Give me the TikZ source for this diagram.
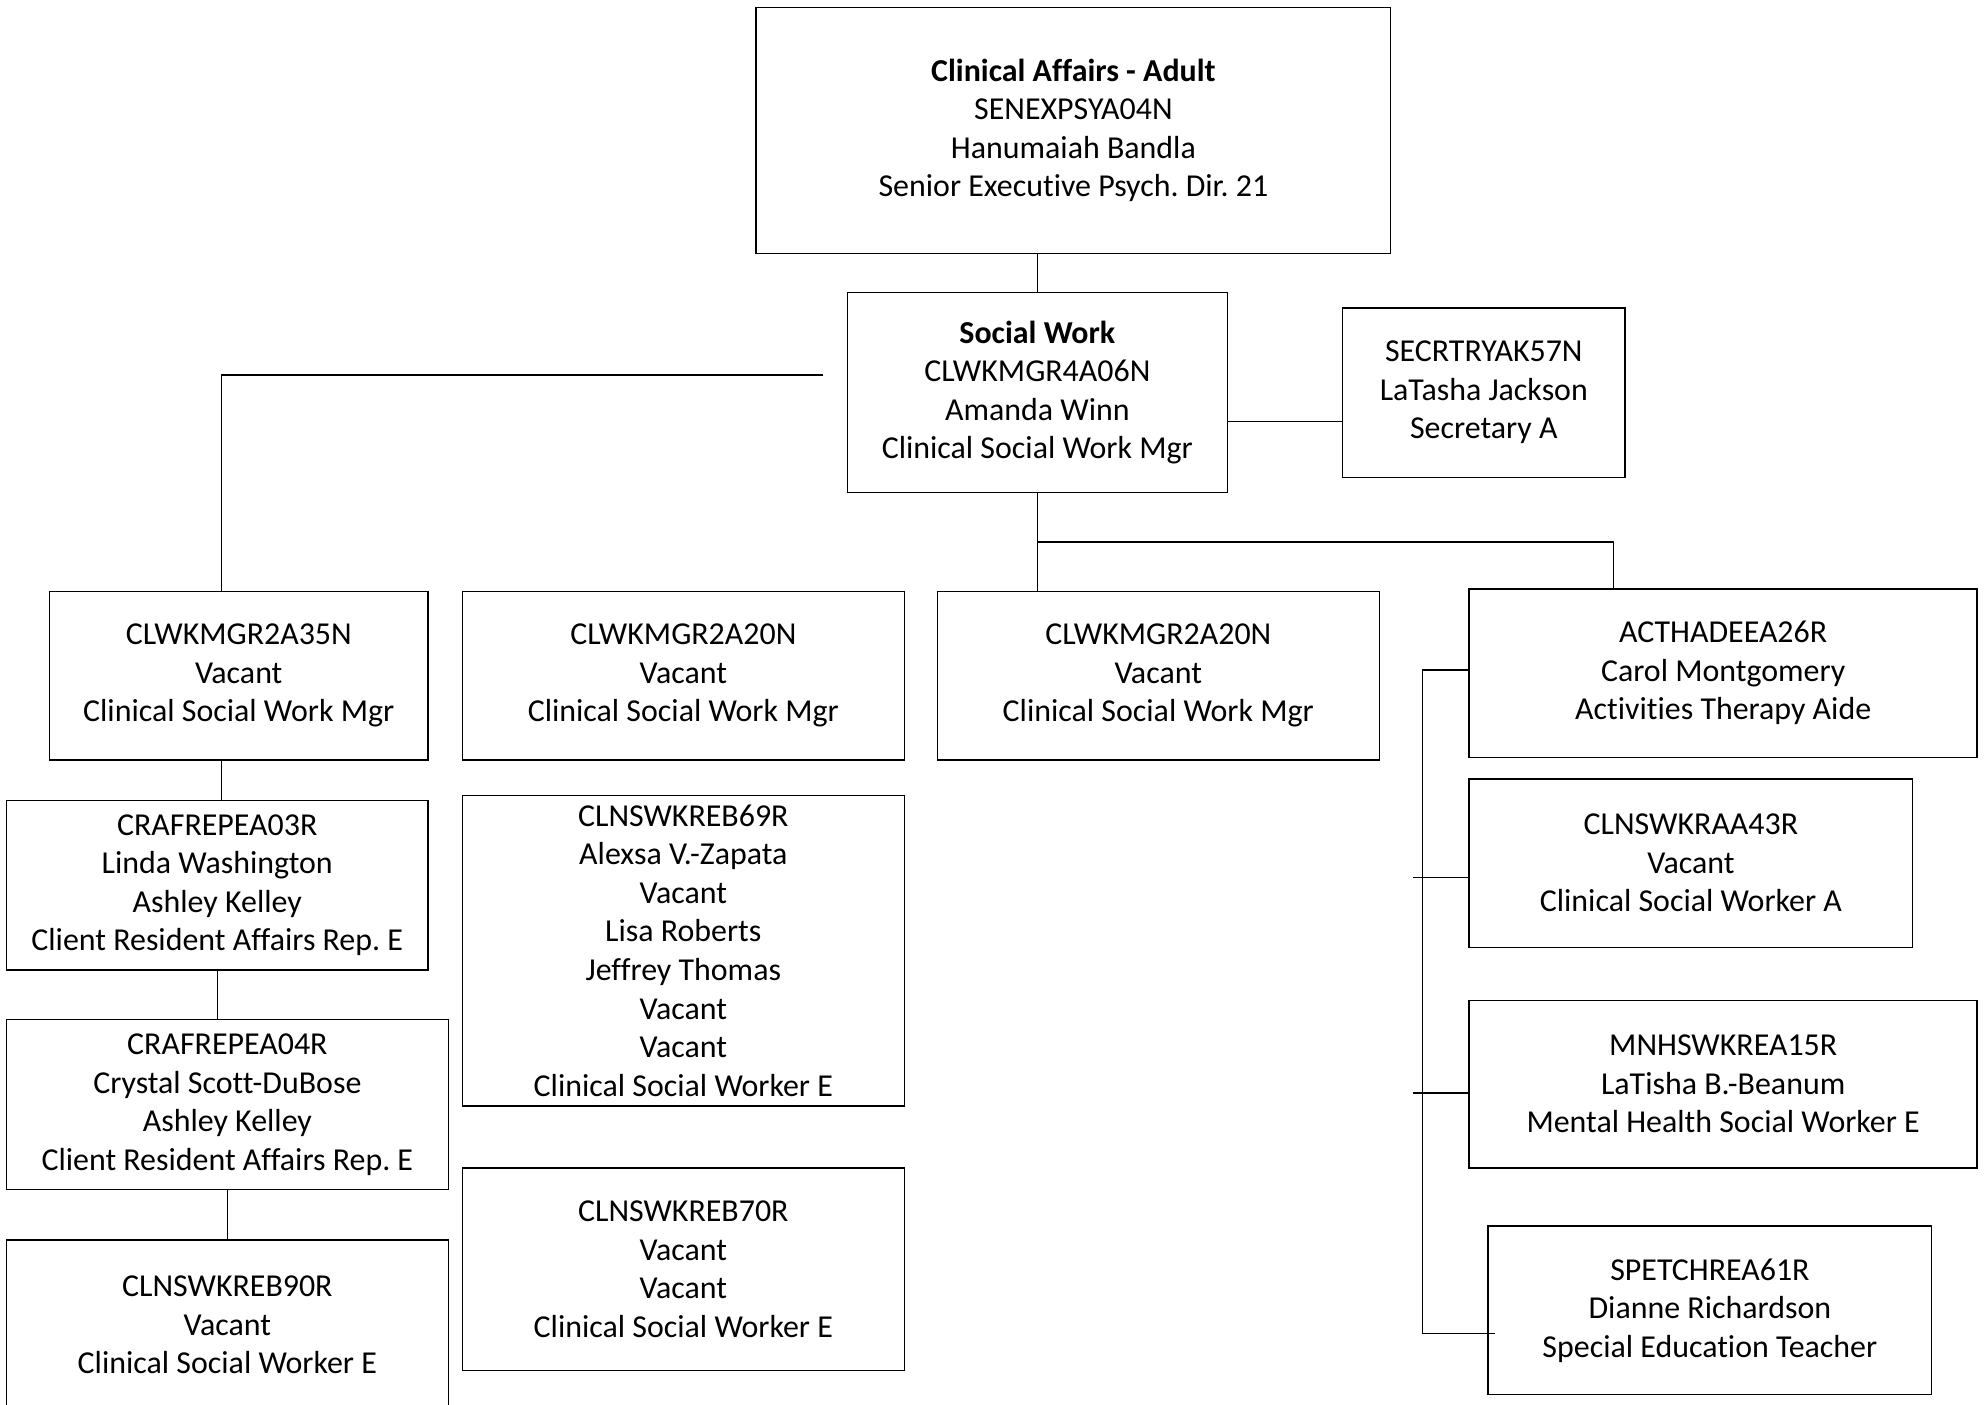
\documentclass[tikz,border=0pt]{standalone}
\usepackage{fontspec}
\setmainfont{Carlito}[Ligatures=NoCommon]
\frenchspacing
\usepackage{tikz}
\usetikzlibrary{positioning, calc}
\newcommand{\orgfont}{\fontsize{12.6}{15.2}\selectfont}
\tikzset{
  orgbox/.style={rectangle, draw=black, line width=0.6pt, fill=white, align=center,
                 inner sep=0pt, font=\orgfont},
  link/.style={draw=black, line width=0.5pt},
}

\begin{document}
\begin{tikzpicture}[x=0.5pt, y=-0.5pt]
\useasboundingbox (0,0) rectangle (1568,1109);
% top of the chart
\node[orgbox, minimum width=250.5pt, minimum height=97pt] (top) at (847.5,103) {\textbf{Clinical Affairs - Adult}\\SENEXPSYA04N\\Hanumaiah Bandla\\Senior Executive Psych. Dir. 21};
\node[orgbox, minimum width=150pt, minimum height=79pt] (sw) at (819,310) {\textbf{Social Work}\\CLWKMGR4A06N\\Amanda Winn\\Clinical Social Work Mgr};
\node[orgbox, minimum width=111.5pt, minimum height=67pt] (sec) at (1171.5,310) {SECRTRYAK57N\\LaTasha Jackson\\Secretary A};
% managers row
\node[orgbox, minimum width=149.5pt, minimum height=66.5pt] (b1) at (188.5,533.5) {CLWKMGR2A35N\\Vacant\\Clinical Social Work Mgr};
\node[orgbox, minimum width=174.5pt, minimum height=66.5pt] (b2) at (539.5,533.5) {CLWKMGR2A20N\\Vacant\\Clinical Social Work Mgr};
\node[orgbox, minimum width=174.5pt, minimum height=66.5pt] (b3) at (914.5,533.5) {CLWKMGR2A20N\\Vacant\\Clinical Social Work Mgr};
\node[orgbox, minimum width=200.5pt, minimum height=66.5pt] (b4) at (1360.5,531.5) {ACTHADEEA26R\\Carol Montgomery\\Activities Therapy Aide};
% left column
\node[orgbox, minimum width=166.5pt, minimum height=67pt] (c1) at (171.5,699) {CRAFREPEA03R\\Linda Washington\\Ashley Kelley\\Client Resident Affairs Rep. E};
\node[orgbox, minimum width=174.5pt, minimum height=67pt] (c2) at (179.5,872) {CRAFREPEA04R\\Crystal Scott-DuBose\\Ashley Kelley\\Client Resident Affairs Rep. E};
\node[orgbox, minimum width=174.5pt, minimum height=67pt] (c3) at (179.5,1046) {CLNSWKREB90R\\Vacant\\Clinical Social Worker E};
% middle column
\node[orgbox, minimum width=174.5pt, minimum height=122.5pt] (d1) at (539.5,750.5) {CLNSWKREB69R\\Alexsa V.-Zapata\\Vacant\\Lisa Roberts\\Jeffrey Thomas\\Vacant\\Vacant\\Clinical Social Worker E};
\node[orgbox, minimum width=174.5pt, minimum height=80pt] (d2) at (539.5,1002) {CLNSWKREB70R\\Vacant\\Vacant\\Clinical Social Worker E};
% right column
\node[orgbox, minimum width=175pt, minimum height=66.5pt] (e1) at (1335,681.5) {CLNSWKRAA43R\\Vacant\\Clinical Social Worker A};
\node[orgbox, minimum width=200.5pt, minimum height=66pt] (e2) at (1360.5,856) {MNHSWKREA15R\\LaTisha B.-Beanum\\Mental Health Social Worker E};
\node[orgbox, minimum width=175pt, minimum height=66.5pt] (e3) at (1350,1034.5) {SPETCHREA61R\\Dianne Richardson\\Special Education Teacher};
% connectors
\coordinate (lend) at (650,296);
\coordinate (bus) at (1123,529);
\draw[link] (sw.north) -- (sw.north |- top.south);
\draw[link] (sw.east |- 0,333) -- (sec.west |- 0,333);
\draw[link] (lend) -| (b1.north -| 175,0);
\draw[link] (sw.south) -- (sw.south |- b3.north);
\draw[link] (sw.south |- 0,428) -| (b4.north -| 1274,0);
\draw[link] (b1.south -| 175,0) -- (c1.north -| 175,0);
\draw[link] (c1.south) -- (c1.south |- c2.north);
\draw[link] (c2.south) -- (c3.north);
\draw[link] (b4.west |- bus) -- (bus) -- (bus |- 0,1053) -- ([xshift=3pt]e3.west |- 0,1053);
\draw[link] (e1.west |- 0,693) -- ++(-44,0);
\draw[link] (e2.west |- 0,863) -- ++(-44,0);
\end{tikzpicture}
\end{document}
